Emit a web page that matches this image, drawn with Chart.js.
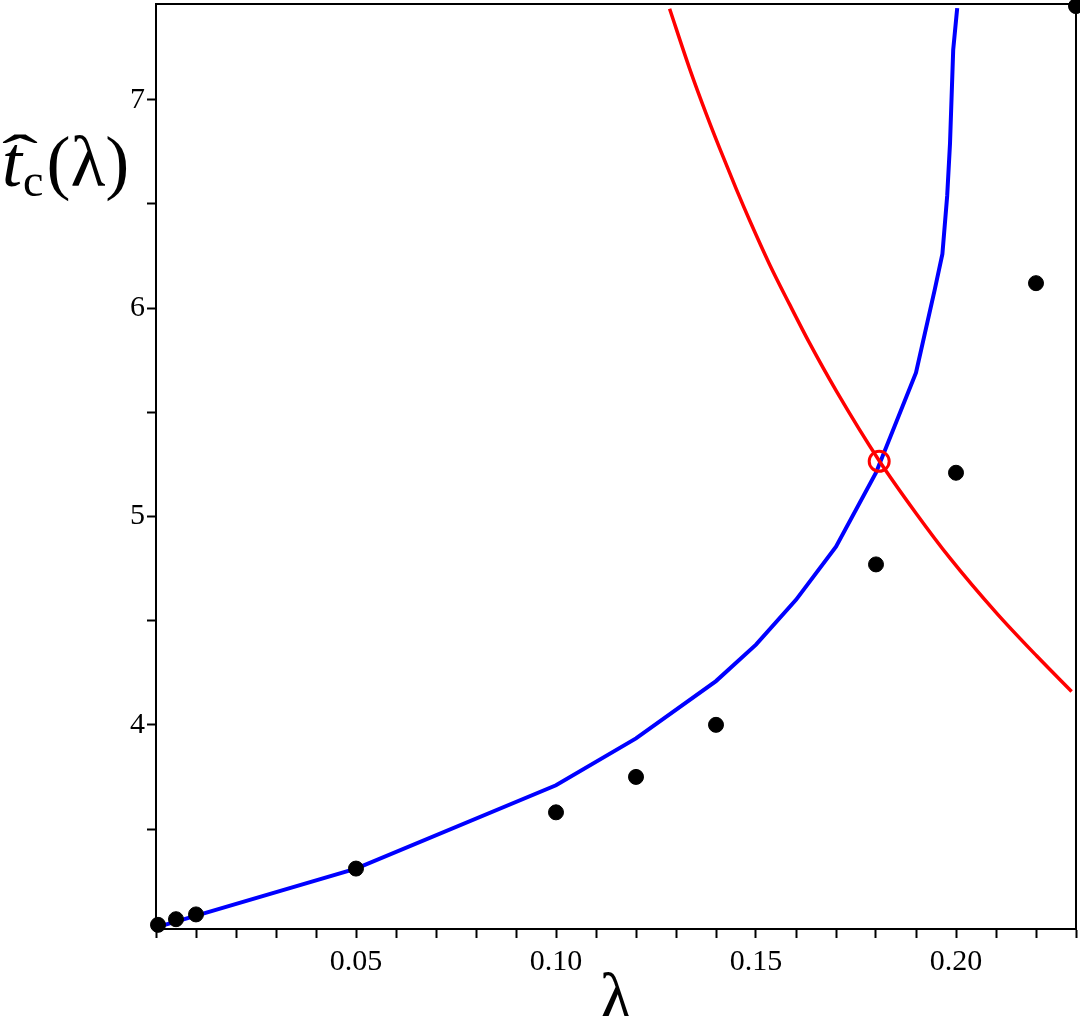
<!DOCTYPE html>
<html>
<head>
<meta charset="utf-8">
<script src="https://cdn.jsdelivr.net/npm/chart.js@4.4.1/dist/chart.umd.min.js"></script>
<style>
  body { margin: 0; background: #fff; }
  #wrap { position: relative; width: 1080px; height: 1016px; }
  #ytitle {
    position: absolute; left: 2px; top: 126px;
    font-family: 'Liberation Serif', serif; font-size: 72px; line-height: 1;
    color: #000; white-space: nowrap;
  }
  #ytitle .t { font-style: italic; position: relative; }
  #ytitle .hat {
    position: absolute; left: 0px; top: 4px; font-style: normal;
    transform: scale(1.5, 0.8); transform-origin: left top;
  }
  #ytitle .sub { font-size: 46px; position: relative; top: 10px; margin-left: 1px; }
  #ytitle .par { margin-left: 3px; }
</style>
</head>
<body>
<div id="wrap">
  <canvas id="grafico"></canvas>
  <div id="ytitle"><span class="t">t<span class="hat">ˆ</span></span><span class="sub">c</span><span class="par">(λ)</span></div>
</div>
<script>
// pontos (simulacao)
const dotLambda = [0.0005, 0.005, 0.01, 0.05, 0.10, 0.12, 0.14, 0.18, 0.20, 0.22, 0.23];
const dotT = [3.04, 3.067, 3.09, 3.31, 3.58, 3.75, 4.00, 4.77, 5.21, 6.12, 7.45];

// curva azul
const blueLambda = [0.0005, 0.05, 0.10, 0.12, 0.14, 0.15, 0.16, 0.17, 0.18, 0.19, 0.1947, 0.1966, 0.1978, 0.1985, 0.1993, 0.2003];
const blueT = [3.03, 3.31, 3.71, 3.935, 4.21, 4.385, 4.60, 4.855, 5.21, 5.69, 6.09, 6.26, 6.54, 6.79, 7.24, 7.44];

// curva vermelha
const redLambda = [0.1284, 0.1334, 0.1376, 0.1409, 0.1451, 0.1484, 0.1534, 0.1584, 0.1634, 0.1701, 0.1808, 0.190, 0.1985, 0.2102, 0.2202, 0.2289];
const redT = [7.437, 7.15, 6.93, 6.768, 6.57, 6.422, 6.21, 6.018, 5.832, 5.602, 5.268, 5.016, 4.80, 4.535, 4.33, 4.16];

// intersecao
const crossLambda = [0.1808];
const crossT = [5.265];

const xMajor = [0.05, 0.10, 0.15, 0.20];
const yMajor = [4, 5, 6, 7];

const toXY = (xs, ys) => xs.map((x, i) => ({ x: x, y: ys[i] }));
const serif = "'Liberation Serif', 'Times New Roman', serif";

const frame = {
    id: 'frame',
    beforeDatasetsDraw(chart) {
        const { ctx, chartArea: a } = chart;
        ctx.save();
        ctx.strokeStyle = '#000';
        ctx.lineWidth = 2;
        ctx.strokeRect(a.left, a.top, a.right - a.left, a.bottom - a.top);
        ctx.restore();
    }
};

const ctx = document.getElementById('grafico');
const myChart = new Chart(ctx, {
    type: 'scatter',
    data: {
        datasets: [
            {
                data: toXY(dotLambda, dotT),
                backgroundColor: '#000',
                borderColor: '#000',
                pointRadius: 7.5,
                showLine: false,
                clip: false,
                order: 0
            },
            {
                data: toXY(crossLambda, crossT),
                backgroundColor: 'rgba(0,0,0,0)',
                borderColor: '#ff0000',
                borderWidth: 3,
                pointRadius: 10,
                showLine: false,
                order: 1
            },
            {
                data: toXY(redLambda, redT),
                borderColor: '#ff0000',
                borderWidth: 3.5,
                pointRadius: 0,
                showLine: true,
                cubicInterpolationMode: 'monotone',
                order: 2
            },
            {
                data: toXY(blueLambda, blueT),
                borderColor: '#0000ff',
                borderWidth: 4,
                pointRadius: 0,
                showLine: true,
                tension: 0,
                order: 3
            }
        ]
    },
    options: {
        responsive: true,
        maintainAspectRatio: false,
        animation: false,
        layout: { autoPadding: false, padding: { top: 4, right: 4, left: 0, bottom: 0 } },
        plugins: {
            legend: { display: false },
            tooltip: { enabled: false }
        },
        scales: {
            x: {
                type: 'linear',
                min: 0,
                max: 0.23,
                afterFit: (s) => { s.height = 87; s.paddingLeft = 0; s.paddingRight = 0; },
                border: { color: '#000', width: 2 },
                grid: { drawOnChartArea: false, color: '#000', tickLength: 9, tickWidth: 2 },
                ticks: {
                    stepSize: 0.01,
                    autoSkip: false,
                    maxRotation: 0,
                    padding: 6,
                    color: '#000',
                    font: { family: serif, size: 30 },
                    callback: (v) => xMajor.some(m => Math.abs(m - v) < 1e-6) ? v.toFixed(2) : ''
                },
                title: {
                    display: true,
                    text: 'λ',
                    color: '#000',
                    font: { family: serif, size: 68, lineHeight: 1 },
                    padding: { top: 0, bottom: -20 }
                }
            },
            y: {
                type: 'linear',
                min: 3.02,
                max: 7.46,
                afterFit: (s) => { s.width = 156; s.paddingTop = 0; s.paddingBottom = 0; },
                afterBuildTicks: (s) => {
                    s.ticks = s.ticks.filter(t => Math.abs(t.value * 2 - Math.round(t.value * 2)) < 1e-6);
                },
                border: { color: '#000', width: 2 },
                grid: { drawOnChartArea: false, color: '#000', tickLength: 9, tickWidth: 2 },
                ticks: {
                    stepSize: 0.5,
                    autoSkip: false,
                    padding: 2,
                    color: '#000',
                    font: { family: serif, size: 30 },
                    callback: (v) => yMajor.includes(v) ? String(v) : ''
                }
            }
        }
    },
    plugins: [frame]
});
</script>
</body>
</html>
